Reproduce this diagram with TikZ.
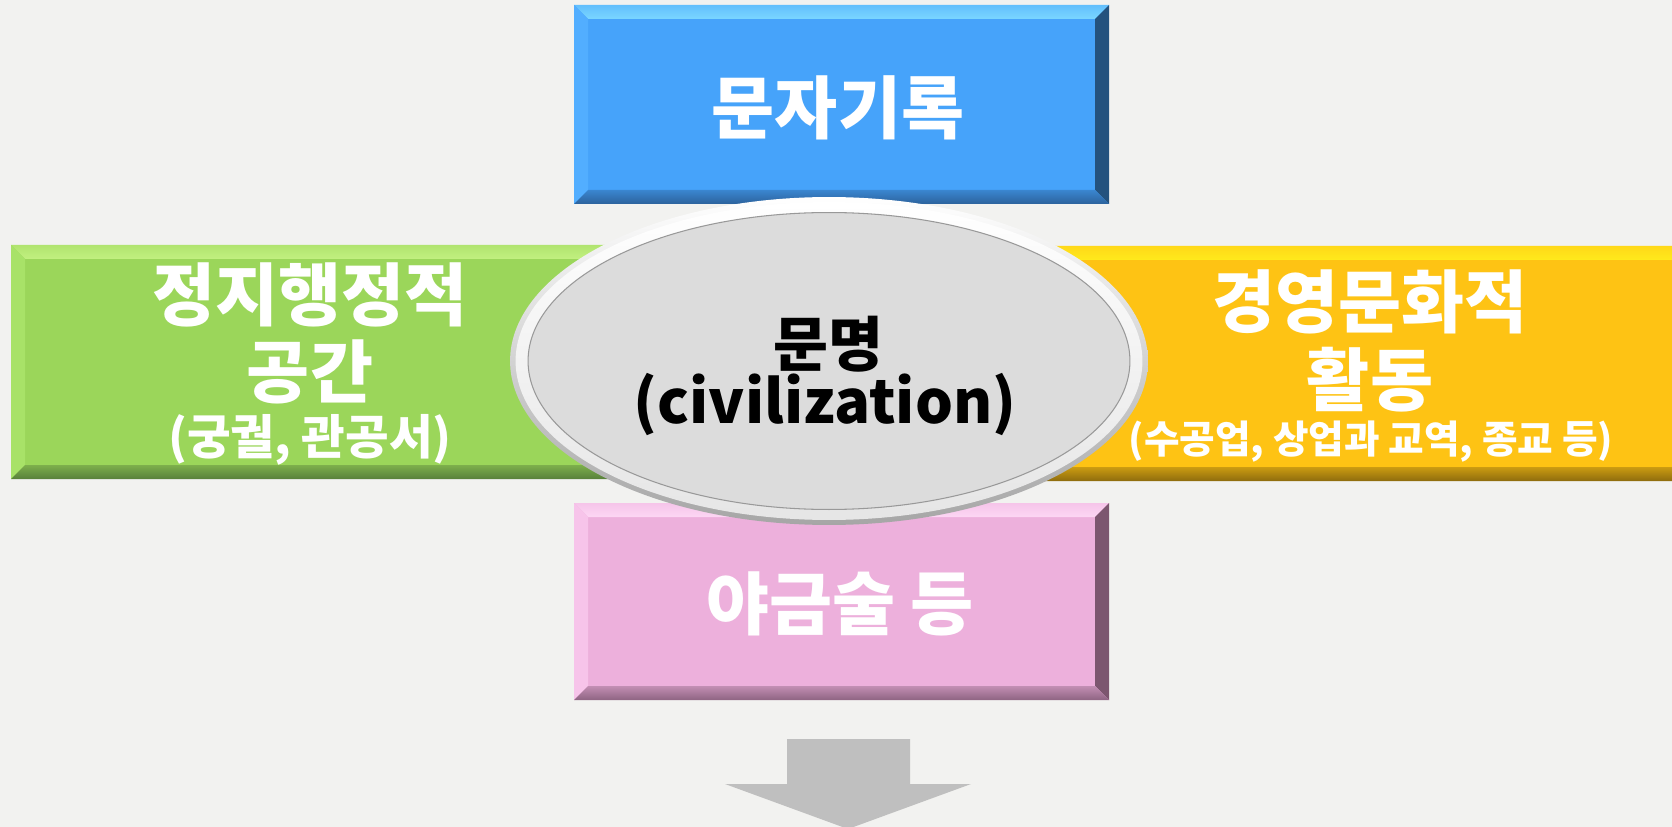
\documentclass[tikz,border=0pt]{standalone}
\usepackage{fontspec}
\newfontfamily\kr{Noto Sans CJK KR}
\usepackage{tikz}
\usetikzlibrary{positioning,calc}

\definecolor{bgcol}{HTML}{F2F2F0}
\definecolor{civgray}{HTML}{DCDCDC}
\definecolor{arrowgray}{HTML}{BFBFBF}
\definecolor{bluemain}{HTML}{46A3FA}
\definecolor{bluetop}{HTML}{7AD6FF}
\definecolor{bluebot}{HTML}{2C629C}
\definecolor{blueleft}{HTML}{52AEFF}
\definecolor{blueright}{HTML}{24527E}
\definecolor{greenmain}{HTML}{9BD65A}
\definecolor{greentop}{HTML}{C2F080}
\definecolor{greenbot}{HTML}{58803A}
\definecolor{greenleft}{HTML}{A8E268}
\definecolor{greenright}{HTML}{5E8A36}
\definecolor{yellowmain}{HTML}{FEC314}
\definecolor{yellowtop}{HTML}{FFEA1C}
\definecolor{yellowbot}{HTML}{8E6C0E}
\definecolor{yellowleft}{HTML}{FFCC22}
\definecolor{yellowright}{HTML}{B08610}
\definecolor{pinkmain}{HTML}{EDB0DC}
\definecolor{pinktop}{HTML}{FDD6F4}
\definecolor{pinkbot}{HTML}{8E6482}
\definecolor{pinkleft}{HTML}{F7C4EA}
\definecolor{pinkright}{HTML}{7C566F}

\tikzset{
  bigtext/.style={text=white, font=\kr\bfseries\fontsize{39}{42}\selectfont, inner sep=0pt},
  smalltext/.style={text=white, font=\kr\bfseries\fontsize{22}{24}\selectfont, inner sep=0pt},
  civtext/.style={text=black, font=\kr\bfseries\fontsize{34}{36}\selectfont, inner sep=0pt}
}

% name, x1, y1, x2, y2, colour
\newcommand{\bevelbox}[6]{
  \fill[#6main] (#2,#3) rectangle (#4,#5);
  \shade[top color=#6top!55!#6main, bottom color=#6top] (#2,#3) -- (#4,#3) -- (#4-14,#3+14) -- (#2+14,#3+14) -- cycle;
  \fill[#6left] (#2,#3) -- (#2+14,#3+14) -- (#2+14,#5-14) -- (#2,#5) -- cycle;
  \fill[#6right] (#4,#3) -- (#4-14,#3+14) -- (#4-14,#5-14) -- (#4,#5) -- cycle;
  \shade[top color=#6bot!45!#6main, bottom color=#6bot] (#2,#5) -- (#4,#5) -- (#4-14,#5-14) -- (#2+14,#5-14) -- cycle;
  \coordinate (#1) at ($(#2,#3)!0.5!(#4,#5)$);
}

\begin{document}
\begin{tikzpicture}[x=0.02cm,y=-0.02cm]
\fill[bgcol] (0,0) rectangle (1672,827);
\useasboundingbox (0,0) rectangle (1672,827);

\bevelbox{green}{11}{245}{829}{479}{green}
\bevelbox{yellow}{829}{246}{1700}{481}{yellow}
\bevelbox{blue}{574}{5}{1109}{204}{blue}
\bevelbox{pink}{574}{503}{1109}{700}{pink}

\node[bigtext] (t1) at (838,108) {문자기록};

\node[bigtext] (g1) at (310,295) {정지행정적};
\node[bigtext] (g2) at (310,372) {공간};
\node[smalltext, font=\kr\bfseries\fontsize{27}{29}\selectfont] (g3) at (310,440) {(궁궐, 관공서)};

\node[bigtext] (y1) at (1370,302) {경영문화적};
\node[bigtext] (y2) at (1370,380) {활동};
\node[smalltext] (y3) at (1371,442) {(수공업, 상업과 교역, 종교 등)};

\node[bigtext] (p1) at (840,604) {야금술 등};

% centre ellipse
\coordinate (civ) at (829,361);
\shade[top color=white, bottom color=black!35] (civ) ellipse [x radius=6.38cm, y radius=3.28cm];
\shade[top color=white, bottom color=black!10] (civ) ellipse [x radius=6.27cm, y radius=3.18cm];
\filldraw[fill=civgray, draw=black!40, line width=0.6pt] (civ) ellipse [x radius=6.02cm, y radius=2.97cm];

\node[civtext] (c1) at (828,344) {문명};
\node[civtext] (c2) at (825,405) {(civilization)};

\fill[arrowgray] (787,739) -- (910,739) -- (910,784) -- (971,784) -- (848,829) -- (725,784) -- (787,784) -- cycle;

\end{tikzpicture}
\end{document}
